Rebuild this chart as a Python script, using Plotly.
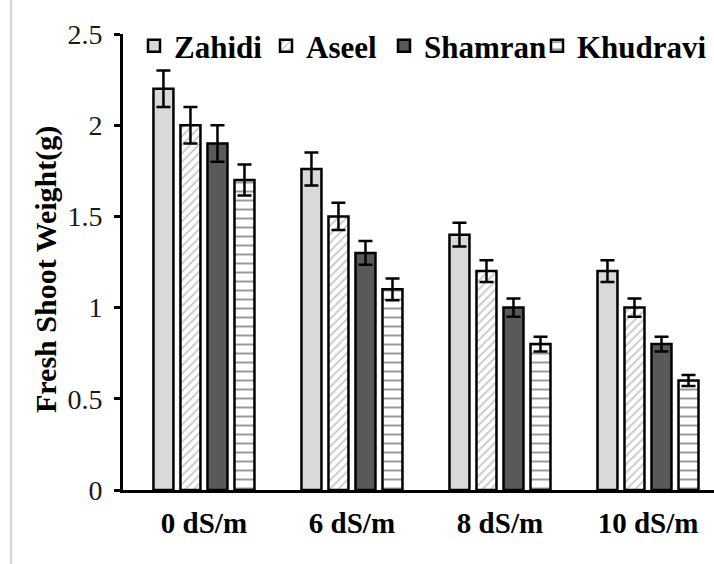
import plotly.graph_objects as go

# Salinity levels and cultivar measurements
salinity = ["0 dS/m", "6 dS/m", "8 dS/m", "10 dS/m"]
zahidi = [2.2, 1.76, 1.4, 1.2]
aseel = [2.0, 1.5, 1.2, 1.0]
shamran = [1.9, 1.3, 1.0, 0.8]
khudravi = [1.7, 1.1, 0.8, 0.6]

zahidi_err = [0.10, 0.09, 0.065, 0.06]
aseel_err = [0.10, 0.075, 0.06, 0.05]
shamran_err = [0.10, 0.065, 0.05, 0.04]
khudravi_err = [0.085, 0.06, 0.04, 0.03]

y_ticks = [0, 0.5, 1, 1.5, 2, 2.5]
y_ticktext = ["0", "0.5", "1", "1.5", "2", "2.5"]
y_title = "Fresh Shoot Weight(g)"

SERIF = "Liberation Serif, Times New Roman, serif"
OUTLINE = dict(color="black", width=2.5)

# plot area in pixels (used to place legends, the frame edge and the title)
L, T, B = 123, 34, 74
W, H = 714, 564
PW, PH = W - L, H - T - B


def err(values):
    return dict(type="data", array=values, visible=True,
                color="black", thickness=2.5, width=7)


def legend_at(px):
    # one-entry legend whose box starts at pixel column px
    return dict(
        orientation="h", x=(px - L) / PW, xanchor="left",
        y=(H - B - 46) / PH, yanchor="middle",
        font=dict(family=SERIF, size=31, color="black", weight="bold"),
        bgcolor="rgba(0,0,0,0)",
    )


fig = go.Figure()
fig.add_trace(go.Bar(
    name="Zahidi", x=salinity, y=zahidi, error_y=err(zahidi_err),
    marker=dict(color="#d9d9d9", line=OUTLINE), legend="legend",
))
fig.add_trace(go.Bar(
    name="Aseel", x=salinity, y=aseel, error_y=err(aseel_err),
    marker=dict(color="white", line=OUTLINE,
                pattern=dict(shape="/", fgcolor="#8c8c8c", bgcolor="white",
                             size=6, solidity=0.3)),
    legend="legend2",
))
fig.add_trace(go.Bar(
    name="Shamran", x=salinity, y=shamran, error_y=err(shamran_err),
    marker=dict(color="#595959", line=OUTLINE), legend="legend3",
))
fig.add_trace(go.Bar(
    name="Khudravi", x=salinity, y=khudravi, error_y=err(khudravi_err),
    marker=dict(color="white", line=OUTLINE,
                pattern=dict(shape="-", fgcolor="#333333", bgcolor="white",
                             size=9, solidity=0.22)),
    legend="legend4",
))

fig.update_layout(
    width=W, height=H,
    margin=dict(l=L, r=0, t=T, b=B, autoexpand=False),
    paper_bgcolor="white", plot_bgcolor="white",
    barmode="group", bargap=0.27, bargroupgap=0.26,
    font=dict(family=SERIF, color="black"),
    showlegend=True,
    legend=legend_at(134),
    legend2=legend_at(266),
    legend3=legend_at(384),
    legend4=legend_at(537),
    xaxis=dict(
        range=[-0.547, 3.446],
        showline=True, linecolor="black", linewidth=3,
        ticks="", showgrid=False, zeroline=False,
        tickfont=dict(family=SERIF, size=29, color="black", weight="bold"),
        ticklabelstandoff=5,
    ),
    yaxis=dict(
        range=[0, 2.5],
        tickvals=y_ticks, ticktext=y_ticktext,
        showline=True, linecolor="black", linewidth=3,
        ticks="outside", ticklen=6, tickwidth=2.5, tickcolor="black",
        showgrid=False, zeroline=False,
        tickfont=dict(family=SERIF, size=28, color="#1a1a1a"),
        ticklabelstandoff=6,
    ),
)

# rotated y-axis title
fig.add_annotation(
    text=y_title, textangle=-90, showarrow=False,
    xref="paper", yref="paper",
    x=(46 - L) / PW, y=(H - B - 270) / PH,
    xanchor="center", yanchor="middle",
    font=dict(family=SERIF, size=30, color="black", weight="bold"),
)

# thin grey frame edge on the left of the figure
fig.add_shape(type="line", xref="paper", yref="paper",
              x0=(11 - L) / PW, x1=(11 - L) / PW, y0=-B / PH, y1=(H - B) / PH,
              line=dict(color="#d9d9d9", width=2.5))

fig.write_html("out.html")
